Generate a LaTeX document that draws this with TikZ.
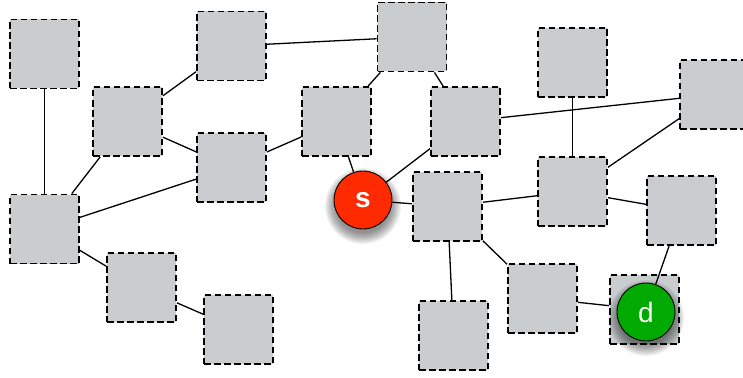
\documentclass[tikz,border=0pt]{standalone}
\usepackage{fontspec}
\setmainfont{Liberation Sans}
\begin{document}
\begin{tikzpicture}[x=1pt, y=-1pt,
  cell/.style={draw=black, fill=cellgray, line width=1.8pt,
    dash pattern=on 6.5pt off 3.5pt, minimum size=69pt, inner sep=0pt},
  link/.style={draw=black, line width=1.3pt},
  endpoint/.style={circle, draw=black, line width=0.9pt, minimum size=58pt,
    inner sep=0pt, text=white, font=\fontsize{28}{28}\selectfont},
]
\definecolor{cellgray}{RGB}{202,205,208}
\definecolor{srcred}{RGB}{255,42,0}
\definecolor{dstgreen}{RGB}{0,170,0}
\useasboundingbox (0,0) rectangle (743,377);

% network cells
\node[cell] (A) at (44.5,54) {};
\node[cell] (B) at (231.5,46) {};
\node[cell] (C) at (412,37) {};
\node[cell] (D) at (572.5,62.5) {};
\node[cell] (E) at (714.5,94.5) {};
\node[cell] (F) at (127.5,121.5) {};
\node[cell] (G) at (336.5,121.5) {};
\node[cell] (H) at (465.5,121.5) {};
\node[cell] (I) at (231.5,167.5) {};
\node[cell] (J) at (44.5,229) {};
\node[cell] (K) at (447.5,206.5) {};
\node[cell] (L) at (572.5,191.5) {};
\node[cell] (M) at (681.5,210.5) {};
\node[cell] (N) at (141.5,287.5) {};
\node[cell] (O) at (238.5,329.5) {};
\node[cell] (P) at (542.5,298.5) {};
\node[cell] (Q) at (453.5,335.5) {};
\node[cell] (R) at (644.5,309.5) {};

% soft shadows under the end points
\foreach \cx/\cy in {363/200, 646/312}{
  \foreach \k in {0,...,9}{
    \fill[black, opacity=0.055] (\cx,\cy+6) circle ({29pt+9pt-\k*1.2pt});
  }
}

% end points
\node[endpoint, fill=srcred, font=\fontsize{28}{28}\selectfont\bfseries] (s) at (363,200) {s};
\node[endpoint, fill=dstgreen] (d) at (646,312) {d};

% links
\foreach \u/\v in {A/J, F/J, F/B, F/I, I/J, B/C, C/G, C/H, G/I, G/s, H/s, H/E,
  D/L, L/E, s/K, K/L, K/Q, K/P, L/M, M/d, P/R, J/N, N/O}{
  \draw[link] (\u) -- (\v);
}
\end{tikzpicture}
\end{document}
